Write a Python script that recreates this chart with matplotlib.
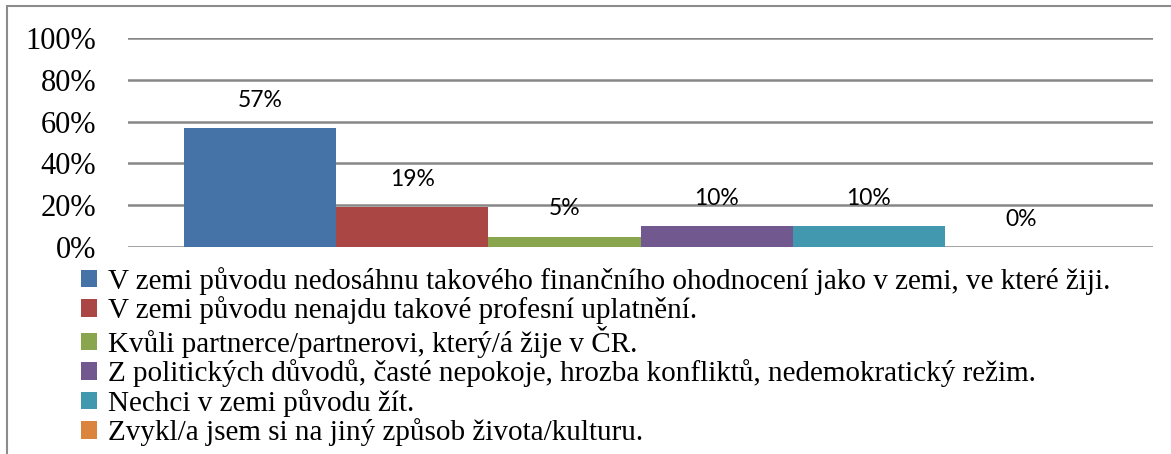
import matplotlib.pyplot as plt
from matplotlib.patches import Rectangle, Patch

categories = [
    "V zemi původu nedosáhnu takového finančního ohodnocení jako v zemi, ve které žiji.",
    "V zemi původu nenajdu takové profesní uplatnění.",
    "Kvůli partnerce/partnerovi, který/á žije v ČR.",
    "Z politických důvodů, časté nepokoje, hrozba konfliktů, nedemokratický režim.",
    "Nechci v zemi původu žít.",
    "Zvykl/a jsem si na jiný způsob života/kulturu.",
]
values = [0.57, 0.19, 0.05, 0.10, 0.10, 0.0]
labels = ["57%", "19%", "5%", "10%", "10%", "0%"]
colors = ["#4572A7", "#AA4643", "#89A54E", "#71588F", "#4198AF", "#DB843D"]
yticks = [0, 0.2, 0.4, 0.6, 0.8, 1.0]
ytick_labels = ["0%", "20%", "40%", "60%", "80%", "100%"]

W, H = 1171, 454
fig = plt.figure(figsize=(W / 100, H / 100), dpi=100)

# outer frame
fig.patches.append(Rectangle((7 / W, -0.1), 1.2, (H - 6) / H + 0.1, transform=fig.transFigure,
                             fill=False, edgecolor="#8c8c8c", linewidth=1.5))

ax = fig.add_axes([128 / W, (H - 247) / H, (1153 - 128) / W, (247 - 38) / H])
for i, v in enumerate(values):
    ax.bar(i, v, width=1.0, color=colors[i], zorder=3)
    ax.annotate(labels[i], (i, v), xytext=(0, 20), textcoords="offset points",
                ha="center", va="center", fontsize=16.5, family="Lato", zorder=4)

ax.set_xlim(-0.5 - 56 / 152.2, 5.5 + 56 / 152.2)
ax.set_ylim(0, 1)
ax.set_yticks(yticks)
ax.set_yticklabels(ytick_labels, family="Liberation Serif", fontsize=22)
ax.tick_params(axis="y", length=0, pad=23)
ax.set_xticks([])
for s in ax.spines.values():
    s.set_visible(False)
ax.grid(axis="y", color="#878787", linewidth=1.8, zorder=0)

handles = [Patch(facecolor=c, edgecolor="none") for c in colors]
fig.legend(handles, categories, loc="upper left", bbox_to_anchor=(81 / W, (H - 267) / H),
           frameon=False, prop={"family": "Liberation Serif", "size": 21},
           handlelength=0.55, handleheight=0.55, handletextpad=0.38,
           labelspacing=0.05, borderpad=0, borderaxespad=0)

fig.savefig("out.png", dpi=100)
